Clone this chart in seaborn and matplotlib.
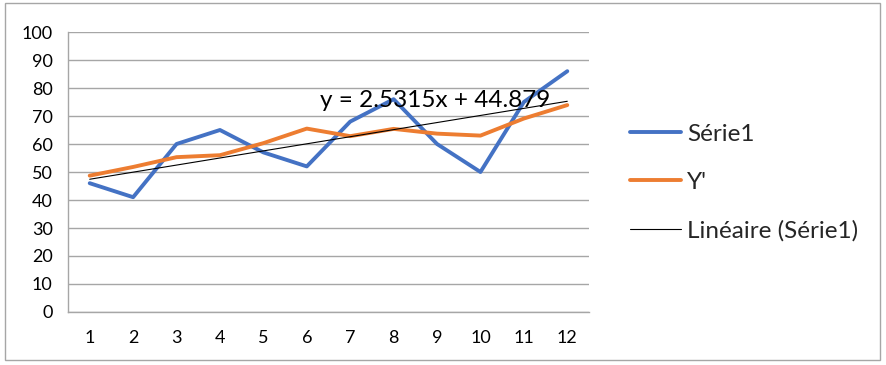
import numpy as np
import pandas as pd
import matplotlib
matplotlib.use('Agg')
import matplotlib.pyplot as plt
import seaborn as sns
from matplotlib.patches import Rectangle
from matplotlib.lines import Line2D

# data
x_vals = list(range(1, 13))
serie1 = [46, 41, 60, 65, 57, 52, 68, 76, 60, 50, 75, 86]
y_prime = [48.7, 51.8, 55.3, 56.0, 60.3, 65.5, 62.8, 65.4, 63.7, 63.0, 69.1, 73.9]
trend_slope = 2.5315
trend_intercept = 44.879
trend_label = 'y = 2.5315x + 44.879'

sns.set_theme(style='white')
plt.rcParams['font.family'] = ['Lato', 'DejaVu Sans']

df = pd.DataFrame({'x': x_vals, 'Série1': serie1, "Y'": y_prime})
df['trend'] = trend_slope * df['x'] + trend_intercept

fig = plt.figure(figsize=(8.87, 3.65), dpi=100)
ax = fig.add_axes([68 / 887, 1 - 312 / 365, (589 - 68) / 887, (312 - 32) / 365])

sns.lineplot(data=df, x='x', y='Série1', ax=ax, color='#4472C4', linewidth=2.8,
             solid_capstyle='round', label='Série1', legend=False)
sns.lineplot(data=df, x='x', y="Y'", ax=ax, color='#ED7D31', linewidth=2.8,
             solid_capstyle='round', label="Y'", legend=False)
sns.lineplot(data=df, x='x', y='trend', ax=ax, color='black', linewidth=0.8,
             label='Linéaire (Série1)', legend=False)

ax.text(6.3, 75.5, trend_label, fontsize=17.5, va='center', ha='left', color='black')

ax.set_xlim(0.5, 12.5)
ax.set_ylim(0, 100)
ax.set_yticks(range(0, 101, 10))
ax.set_xticks(x_vals)
ax.set_xticks(np.arange(0.5, 13, 1), minor=True)
ax.tick_params(axis='x', which='major', length=0, pad=13, labelsize=13, colors='black')
ax.tick_params(axis='x', which='minor', length=5, width=1, color='#a6a6a6', direction='out')
ax.tick_params(axis='y', length=5, width=1, color='#a6a6a6', labelsize=13, pad=6, colors='black')
ax.grid(axis='y', color='#a6a6a6', linewidth=1)
ax.set_axisbelow(True)
ax.set_xlabel('')
ax.set_ylabel('')
for side in ['top', 'right']:
    ax.spines[side].set_visible(False)
for side in ['left', 'bottom']:
    ax.spines[side].set_color('#a6a6a6')
    ax.spines[side].set_linewidth(1)

handles = [Line2D([], [], color='#4472C4', linewidth=2.8),
           Line2D([], [], color='#ED7D31', linewidth=2.8),
           Line2D([], [], color='black', linewidth=0.8)]
labels = ['Série1', "Y'", 'Linéaire (Série1)']
fig.legend(handles, labels, loc='center left', bbox_to_anchor=(630 / 887, 0.5),
           frameon=False, fontsize=17.5, handlelength=2.1, handletextpad=0.25,
           labelspacing=1.12, borderpad=0, borderaxespad=0)

# chart area border
fig.patches.append(Rectangle((5 / 887, 5 / 365), 875 / 887, 357 / 365,
                             transform=fig.transFigure, fill=False,
                             edgecolor='#a6a6a6', linewidth=1))

plt.savefig('out.png', dpi=100)
plt.close()
